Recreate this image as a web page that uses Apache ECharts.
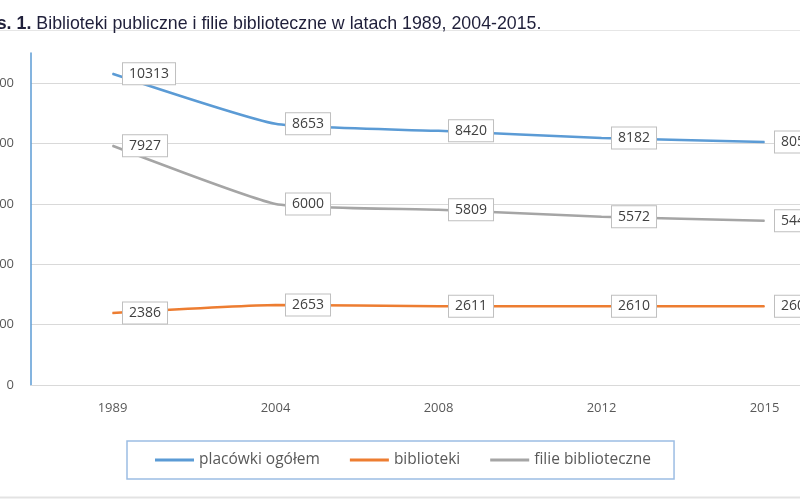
<!DOCTYPE html>
<html>
<head>
<meta charset="utf-8">
<script src="https://cdn.jsdelivr.net/npm/echarts@6/dist/echarts.min.js"></script>
<style>
  html, body { margin: 0; padding: 0; background: #fff; }
  #chart { width: 800px; height: 500px; }
</style>
</head>
<body>
<div id="chart"></div>
<script>
// dane
const years = ["1989", "2004", "2008", "2012", "2015"];
const placowki = [10313, 8653, 8420, 8182, 8053];
const biblioteki = [2386, 2653, 2611, 2610, 2607];
const filie = [7927, 6000, 5809, 5572, 5446];
const yTicks = { min: 0, max: 11000, interval: 2000 };

const chart = echarts.init(document.getElementById("chart"));
const fontFam = "'Open Sans', 'Noto Sans', sans-serif";

// etykieta danych w ramce
function boxLabel() {
  return {
    show: true,
    position: "right",
    distance: 10,
    color: "#404040",
    fontSize: 14,
    fontFamily: fontFam,
    backgroundColor: "#fff",
    borderColor: "#bfbfbf",
    borderWidth: 1,
    padding: [4, 6, 3, 6],
  };
}

function lineSeries(name, data, color) {
  return {
    name: name,
    type: "line",
    data: data,
    smooth: 0.15,
    symbol: "circle",
    symbolSize: 1,
    showSymbol: true,
    lineStyle: { color: color, width: 2.5 },
    itemStyle: { color: color },
    label: boxLabel(),
  };
}

const option = {
  animation: false,
  title: {
    left: -31,
    top: 10,
    text: "{b|Rys. 1.} {n|Biblioteki publiczne i filie biblioteczne w latach 1989, 2004-2015.}",
    textStyle: {
      fontWeight: "normal",
      rich: {
        b: { fontFamily: "'Liberation Sans', Arial", fontSize: 17.8, fontWeight: "bold", color: "#1f1f3a" },
        n: { fontFamily: "'Liberation Sans', Arial", fontSize: 17.8, fontWeight: "normal", color: "#1f1f3a" },
      },
    },
  },
  graphic: [
    { type: "line", shape: { x1: 0, y1: 30.5, x2: 800, y2: 30.5 }, style: { stroke: "#e6e6e6", lineWidth: 1 } },
    { type: "line", shape: { x1: 0, y1: 497.5, x2: 800, y2: 497.5 }, style: { stroke: "#e3e3e3", lineWidth: 2 } },
  ],
  grid: {
    left: 31,
    top: 53,
    width: 815,
    bottom: 115,
    containLabel: false,
    outerBoundsMode: "none",
  },
  legend: {
    left: 127,
    top: 441,
    icon: "rect",
    itemWidth: 39,
    itemHeight: 3,
    itemGap: 30,
    padding: [11, 23, 11, 28],
    borderColor: "#9cbde3",
    borderWidth: 1.5,
    textStyle: { color: "#595959", fontSize: 15.5, fontFamily: fontFam },
    data: ["placówki ogółem", "biblioteki", "filie biblioteczne"],
  },
  xAxis: {
    type: "category",
    data: years,
    boundaryGap: true,
    axisLine: { show: true, lineStyle: { color: "#d9d9d9", width: 1 } },
    axisTick: { show: false },
    axisLabel: { color: "#595959", fontSize: 13, fontFamily: fontFam, margin: 17 },
  },
  yAxis: {
    type: "value",
    min: yTicks.min,
    max: yTicks.max,
    interval: yTicks.interval,
    axisLine: { show: true, lineStyle: { color: "#5b9bd5", width: 1.5 } },
    axisTick: { show: false },
    axisLabel: {
      color: "#595959",
      fontSize: 13,
      fontFamily: fontFam,
      margin: 17,
      showMaxLabel: false,
      formatter: (v) => String(v),
    },
    splitLine: { show: true, showMaxLine: false, lineStyle: { color: "#d9d9d9", width: 1 } },
  },
  series: [
    lineSeries("placówki ogółem", placowki, "#5b9bd5"),
    lineSeries("biblioteki", biblioteki, "#ed7d31"),
    lineSeries("filie biblioteczne", filie, "#a5a5a5"),
  ],
};

chart.setOption(option);
</script>
</body>
</html>
